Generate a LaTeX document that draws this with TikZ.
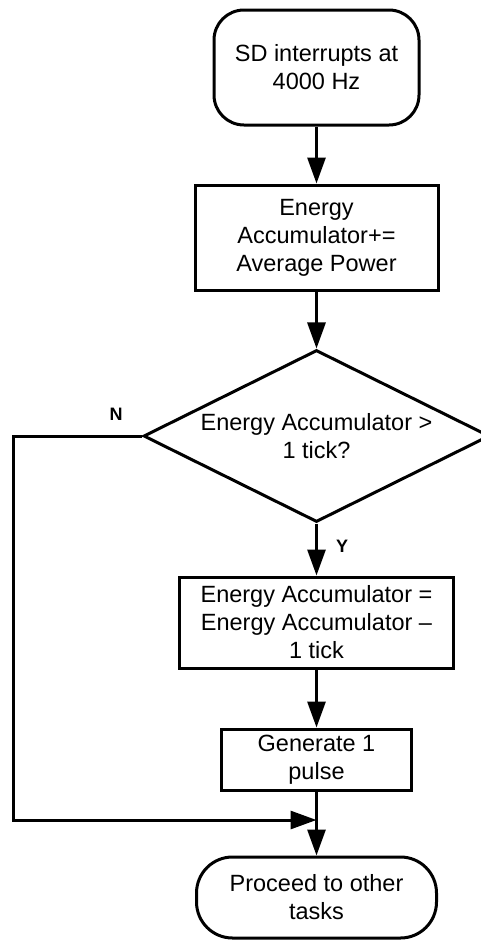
\documentclass[tikz,border=0pt]{standalone}
\usepackage{fontspec}
\setmainfont{Liberation Sans}
\usetikzlibrary{shapes.geometric,arrows.meta}
\begin{document}
\begin{tikzpicture}[x=1pt,y=-1pt,
  every node/.style={font=\fontsize{23.5}{28}\selectfont, align=center, inner sep=0pt},
  boxst/.style={draw, line width=3pt, rectangle},
  termst/.style={draw, line width=3pt, rectangle, rounded corners=#1},
  decst/.style={draw, line width=3pt, diamond, aspect=2},
  lbl/.style={font=\bfseries\fontsize{18}{21}\selectfont},
  arr/.style={line width=3pt, -{Triangle[length=26pt,width=18pt]}},
  ln/.style={line width=3pt}
]
\useasboundingbox (0,0) rectangle (481,940);

\node[termst=30pt, minimum width=205pt, minimum height=115pt] (start) at (316.5,67.5) {SD interrupts at\\4000 Hz};
\node[boxst, minimum width=243pt, minimum height=105pt] (acc) at (316.5,237.5) {Energy\\Accumulator+=\\Average Power};
\node[decst, minimum width=346pt, minimum height=172pt] (dec) at (316.5,436) {Energy Accumulator >\\1 tick?};
\node[boxst, minimum width=274pt, minimum height=91pt] (sub) at (316.5,622.5) {Energy Accumulator =\\Energy Accumulator –\\1 tick};
\node[boxst, minimum width=190pt, minimum height=61pt] (gen) at (316.5,759.5) {Generate 1\\pulse};
\node[termst=36pt, minimum width=240pt, minimum height=81pt] (end) at (316.5,897.5) {Proceed to other\\tasks};

\node[lbl] (nlab) at (116,414) {N};
\node[lbl] (ylab) at (342,546) {Y};

\coordinate (lc) at (13,436);
\coordinate (join) at (316.5,820);

\draw[arr] (start) -- (acc);
\draw[arr] (acc) -- (dec);
\draw[arr] (dec) -- (sub);
\draw[arr] (sub) -- (gen);
\draw[arr] (gen) -- (end);
\draw[arr] (dec.west) -- (lc) |- (join);
\end{tikzpicture}
\end{document}
